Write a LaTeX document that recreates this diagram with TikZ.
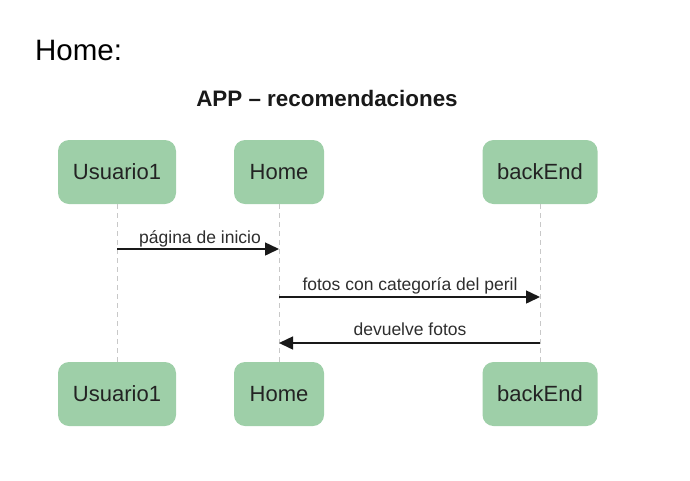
\documentclass[tikz,border=0pt]{standalone}
\usepackage{fontspec}
\setmainfont{Liberation Sans}
\usetikzlibrary{arrows.meta}
\definecolor{boxgreen}{RGB}{158,207,168}
\definecolor{lifegray}{RGB}{200,200,200}
\definecolor{txtdark}{RGB}{35,35,35}
\begin{document}
\begin{tikzpicture}[x=1pt,y=-1pt,
  actor/.style={fill=boxgreen,draw=none,rounded corners=11pt,minimum height=64pt,text=txtdark,font=\fontsize{22}{24}\selectfont,inner sep=0pt},
  lifeline/.style={draw=lifegray,line width=0.9pt,dash pattern=on 5pt off 4pt},
  msg/.style={draw=black!90,line width=1.5pt,-{Triangle[length=14pt,width=13pt]}},
  lbl/.style={font=\fontsize{17.5}{19}\selectfont,text=black!82,inner sep=0pt}]
\useasboundingbox (0,0) rectangle (690,480);
\node[anchor=base west,font=\fontsize{29.5}{32}\selectfont,inner sep=0pt] (hdr) at (35,60) {Home:};
\node[anchor=base,font=\bfseries\fontsize{22.4}{25}\selectfont,text=black!90,inner sep=0pt] (title) at (327,106) {APP – recomendaciones};
\node[actor,minimum width=118pt] (u1) at (117,172) {Usuario1};
\node[actor,minimum width=90pt] (h1) at (279,172) {Home};
\node[actor,minimum width=115pt] (b1) at (540,172) {backEnd};
\node[actor,minimum width=118pt] (u2) at (117,394) {Usuario1};
\node[actor,minimum width=90pt] (h2) at (279,394) {Home};
\node[actor,minimum width=115pt] (b2) at (540,394) {backEnd};
\draw[lifeline] (u1.south) -- (u2.north);
\draw[lifeline] (h1.south) -- (h2.north);
\draw[lifeline] (b1.south) -- (b2.north);
\coordinate (m1s) at (117,249);
\coordinate (m1e) at (279,249);
\coordinate (m2s) at (279,297);
\coordinate (m2e) at (540,297);
\coordinate (m3s) at (540,343);
\coordinate (m3e) at (279,343);
\draw[msg] (m1s) -- (m1e);
\draw[msg] (m2s) -- (m2e);
\draw[msg] (m3s) -- (m3e);
\node[lbl,anchor=base] (l1) at (200,243) {página de inicio};
\node[lbl,anchor=base] (l2) at (410,290) {fotos con categoría del peril};
\node[lbl,anchor=base] (l3) at (410,335) {devuelve fotos};
\end{tikzpicture}
\end{document}
